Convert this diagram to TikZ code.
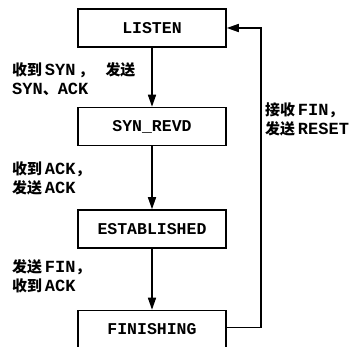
\documentclass[tikz,border=0pt]{standalone}
\usepackage{fontspec}
\setmainfont{Liberation Mono}
\newfontfamily\cjk[Scale=0.88]{Noto Sans CJK SC}
\newcommand{\zh}[1]{{\cjk\bfseries #1}}
\usetikzlibrary{arrows.meta, positioning}
\tikzset{
    statebox/.style={
        rectangle, minimum width=148pt, minimum height=38pt,
        text centered, draw=black, line width=1.5pt, font=\fontsize{16.5}{19}\selectfont\bfseries
    },
    arrow/.style={
        -{Triangle[length=12pt, width=8pt]}, line width=1.5pt, draw=black
    },
    note/.style={
        align=left, inner sep=0pt, font=\fontsize{17}{19.5}\selectfont\bfseries
    }
}

\begin{document}
\begin{tikzpicture}[x=1pt, y=1pt, node distance=60pt]

    \useasboundingbox (0,0) rectangle (359,-347);

    \node[statebox]                        (listen) at (152,-28) {LISTEN};
    \node[statebox, below=59pt of listen]  (synrcvd) {SYN\_REVD};
    \node[statebox, below=63pt of synrcvd] (estab)   {ESTABLISHED};
    \node[statebox, below=61pt of estab]   (finish)  {FINISHING};

    \draw[arrow] (listen)  -- (synrcvd);
    \draw[arrow] (synrcvd) -- (estab);
    \draw[arrow] (estab)   -- (finish);
    \draw[arrow] (finish.east) ++(0,2) -- ++(34,0) |- (listen.east);

    \node[note, anchor=north west] (lbl1) at (12,-62)  {\zh{收到}\,SYN\hspace{3pt}\zh{，}\hspace{12pt}\zh{发送}\\SYN\zh{、}ACK};
    \node[note, anchor=north west] (lbl2) at (12,-161) {\zh{收到}\,ACK\zh{，}\\\zh{发送}\,ACK};
    \node[note, anchor=north west] (lbl3) at (12,-259) {\zh{发送}\,FIN\zh{，}\\\zh{收到}\,ACK};
    \node[note, anchor=north west] (lbl4) at (265,-102) {\zh{接收}\,FIN\zh{，}\\\zh{发送}\,RESET};

\end{tikzpicture}
\end{document}
